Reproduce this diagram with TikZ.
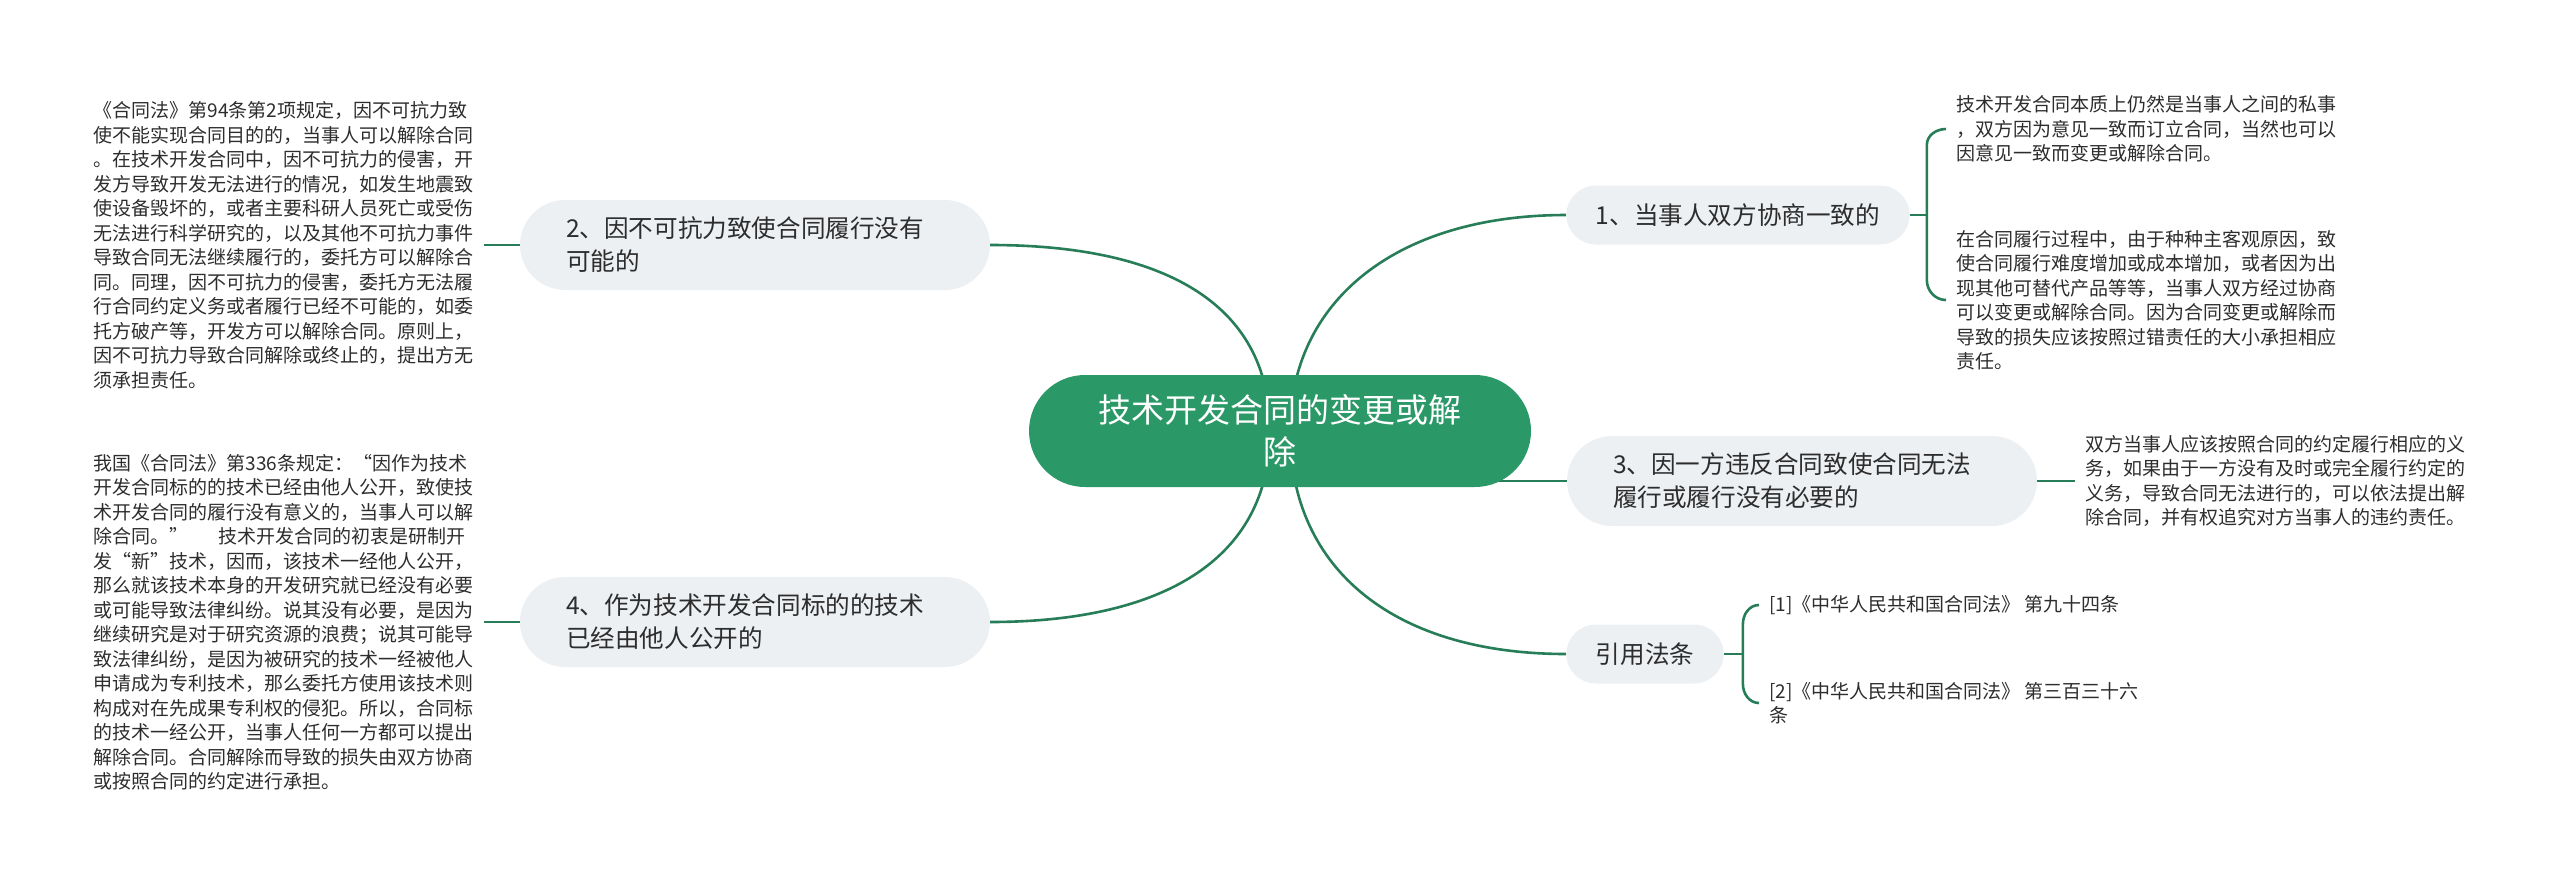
\documentclass[tikz,border=0pt]{standalone}
\usepackage{fontspec}
\setmainfont{Noto Sans CJK SC}
\usetikzlibrary{positioning,calc,backgrounds}
\definecolor{rootgreen}{RGB}{43,152,103}
\definecolor{linegreen}{RGB}{38,125,88}
\definecolor{topicgray}{RGB}{237,240,243}
\definecolor{ink}{RGB}{45,45,45}
\tikzset{
  link/.style={draw=linegreen,line width=2.6pt},
  root/.style={fill=rootgreen,text=white,minimum width=502pt,minimum height=112pt,
    rounded corners=56pt,align=center,inner sep=0pt,font=\fontsize{33}{42}\selectfont},
  topic/.style={fill=topicgray,text=ink,minimum height=59pt,rounded corners=29.5pt,
    inner xsep=29.5pt,inner ysep=0pt,align=left,font=\fontsize{24.6}{33}\selectfont},
  wide topic/.style={topic,minimum height=90pt,rounded corners=45pt,
    text width=378pt,inner xsep=46pt},
  leaf/.style={text=ink,align=left,inner xsep=10pt,inner ysep=2pt,
    font=\fontsize{19}{24.5}\selectfont},
}

\begin{document}
\begin{tikzpicture}[x=1pt,y=-1pt,node distance=36pt]
  \useasboundingbox (0,0) rectangle (2560,887);
  \node[root] (root) at (1280,431) {技术开发合同的变更或解\\除};
  \node[topic] (t1) at (1738,215) {1、当事人双方协商一致的};
  \node[wide topic] (t2) at (755,245) {2、因不可抗力致使合同履行没有\\可能的};
  \node[wide topic] (t3) at (1802,481) {3、因一方违反合同致使合同无法\\履行或履行没有必要的};
  \node[wide topic] (t4) at (755,622) {4、作为技术开发合同标的的技术\\已经由他人公开的};
  \node[topic] (laws) at (1645,654) {引用法条};

  % details
  \node[leaf,left=of t2] (d2) {《合同法》第94条第2项规定，因不可抗力致\\
    使不能实现合同目的的，当事人可以解除合同\\
    。在技术开发合同中，因不可抗力的侵害，开\\
    发方导致开发无法进行的情况，如发生地震致\\
    使设备毁坏的，或者主要科研人员死亡或受伤\\
    无法进行科学研究的，以及其他不可抗力事件\\
    导致合同无法继续履行的，委托方可以解除合\\
    同。同理，因不可抗力的侵害，委托方无法履\\
    行合同约定义务或者履行已经不可能的，如委\\
    托方破产等，开发方可以解除合同。原则上，\\
    因不可抗力导致合同解除或终止的，提出方无\\
    须承担责任。};
  \node[leaf,left=of t4] (d4) {我国《合同法》第336条规定：“因作为技术\\
    开发合同标的的技术已经由他人公开，致使技\\
    术开发合同的履行没有意义的，当事人可以解\\
    除合同。”\hspace{30pt}技术开发合同的初衷是研制开\\
    发“新”技术，因而，该技术一经他人公开，\\
    那么就该技术本身的开发研究就已经没有必要\\
    或可能导致法律纠纷。说其没有必要，是因为\\
    继续研究是对于研究资源的浪费；说其可能导\\
    致法律纠纷，是因为被研究的技术一经被他人\\
    申请成为专利技术，那么委托方使用该技术则\\
    构成对在先成果专利权的侵犯。所以，合同标\\
    的技术一经公开，当事人任何一方都可以提出\\
    解除合同。合同解除而导致的损失由双方协商\\
    或按照合同的约定进行承担。};
  \node[leaf,anchor=west] (d1a) at (1946,129) {技术开发合同本质上仍然是当事人之间的私事\\
    ，双方因为意见一致而订立合同，当然也可以\\
    因意见一致而变更或解除合同。};
  \node[leaf,anchor=west] (d1b) at (1946,300) {在合同履行过程中，由于种种主客观原因，致\\
    使合同履行难度增加或成本增加，或者因为出\\
    现其他可替代产品等等，当事人双方经过协商\\
    可以变更或解除合同。因为合同变更或解除而\\
    导致的损失应该按照过错责任的大小承担相应\\
    责任。};
  \node[leaf,right=38pt of t3] (d3) {双方当事人应该按照合同的约定履行相应的义\\
    务，如果由于一方没有及时或完全履行约定的\\
    义务，导致合同无法进行的，可以依法提出解\\
    除合同，并有权追究对方当事人的违约责任。};
  \node[leaf,anchor=west] (law1) at (1759,605) {[1]《中华人民共和国合同法》 第九十四条};
  \node[leaf,anchor=west] (law2) at (1759,703) {[2]《中华人民共和国合同法》 第三百三十六\\条};

  \begin{scope}[on background layer]
    \coordinate (rl) at ($(root.center)+(-10,0)$);
    \coordinate (rr) at ($(root.center)+(10,0)$);
    \draw[link] (rl) .. controls +(0,-130) and +(170,0) .. (t2.east);
    \draw[link] (rr) .. controls +(0,-130) and +(-170,0) .. (t1.west);
    \draw[link] (rl) .. controls +(0,130) and +(170,0) .. (t4.east);
    \draw[link] (rr) .. controls +(0,140) and +(-170,0) .. (laws.west);
    \draw[link] (root.center |- t3.west) -- (t3.west);
  \end{scope}

  % stubs and brackets
  \draw[link] (t2.west) -- (d2.east);
  \draw[link] (t4.west) -- (d4.east);
  \draw[link] (t3.east) -- (d3.west);
  \coordinate[right=17pt of t1.east] (b1);
  \draw[link] (t1.east) -- (b1);
  \draw[link] (d1a.west) to[out=180,in=90] ($(b1)+(0,-70)$) -- ($(b1)+(0,65)$)
    to[out=-90,in=180] (d1b.west);
  \coordinate[right=19pt of laws.east] (b2);
  \draw[link] (laws.east) -- (b2);
  \draw[link] (law1.west) to[out=180,in=90] ($(b2)+(0,-30)$) -- ($(b2)+(0,30)$)
    to[out=-90,in=180] (law2.west);
\end{tikzpicture}
\end{document}
